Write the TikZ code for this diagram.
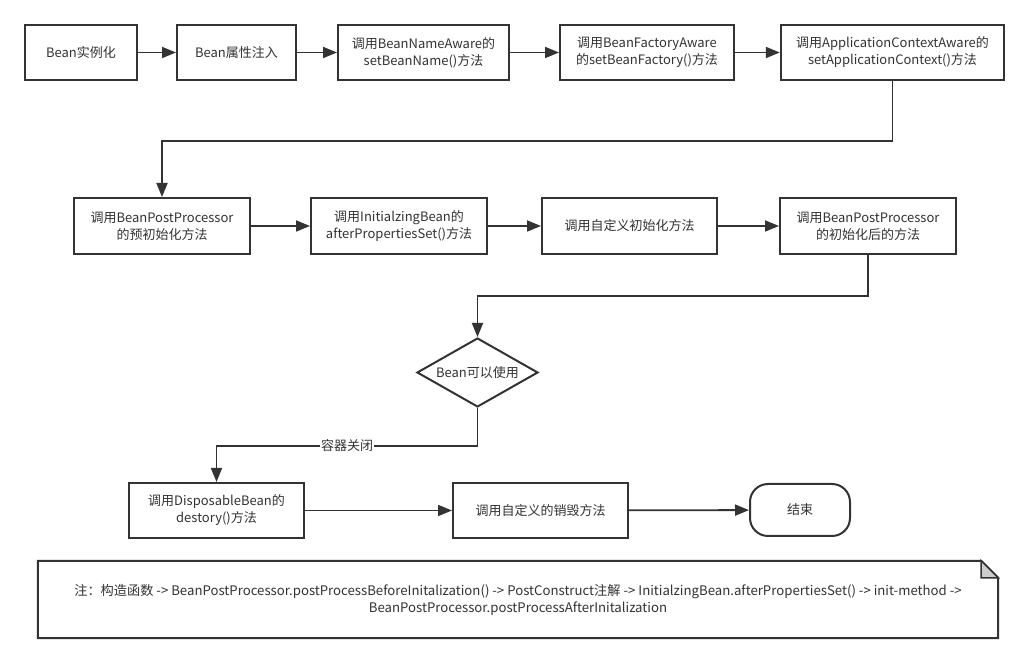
\documentclass[tikz,border=0pt]{standalone}
\usepackage{fontspec}
\setmainfont{Noto Sans CJK SC}
\usetikzlibrary{arrows.meta,shapes.geometric}
\definecolor{ln}{HTML}{333333}
\definecolor{fold}{HTML}{CCCCCC}
\begin{document}
\begin{tikzpicture}[x=1pt,y=1pt,
  box/.style={draw=ln, line width=2pt, minimum height=55pt, align=center,
    font=\fontsize{13}{17}\selectfont, text=ln, inner sep=0pt},
  flow/.style={draw=ln, line width=1.8pt, -{Triangle[length=14pt,width=11pt]}},
  lbl/.style={fill=white, inner sep=1pt, font=\fontsize{13}{14}\selectfont, text=ln}]
\fill[white] (0,0) rectangle (1029,663);
\useasboundingbox (0,0) rectangle (1029,663);
% row 1
\node[box, minimum width=112pt] (b1) at (81,610.5) {Bean实例化};
\node[box, minimum width=119pt] (b2) at (236.5,610.5) {Bean属性注入};
\node[box, minimum width=171pt] (b3) at (423.5,610.5) {调用BeanNameAware的\\setBeanName()方法};
\node[box, minimum width=174pt] (b4) at (647,610.5) {调用BeanFactoryAware\\的setBeanFactory()方法};
\node[box, minimum width=223pt, line width=2.4pt] (b5) at (892.5,610.5) {调用ApplicationContextAware的\\setApplicationContext()方法};
% row 2
\node[box, minimum width=176pt, minimum height=56pt] (b6) at (162,437) {调用BeanPostProcessor\\的预初始化方法};
\node[box, minimum width=176pt, minimum height=56pt] (b7) at (399,437) {调用InitialzingBean的\\afterPropertiesSet()方法};
\node[box, minimum width=175pt, minimum height=56pt] (b8) at (629.5,437) {调用自定义初始化方法};
\node[box, minimum width=176pt, minimum height=56pt] (b9) at (868,437) {调用BeanPostProcessor\\的初始化后的方法};
% decision
\node[diamond, aspect=1.75, draw=ln, line width=2pt, minimum width=121pt, minimum height=69pt, inner sep=0pt,
  font=\fontsize{13}{17}\selectfont, text=ln] (dia) at (477.5,290.5) {Bean可以使用};
% row 3
\node[box, minimum width=175pt] (b10) at (216.5,152.5) {调用DisposableBean的\\destory()方法};
\node[box, minimum width=175pt] (b11) at (540.5,152.5) {调用自定义的销毁方法};
\node[box, minimum width=100pt, minimum height=52pt, rounded corners=18pt] (end) at (800,153) {结束};
% connectors
\draw[flow] (b1) -- (b2);
\draw[flow] (b2) -- (b3);
\draw[flow] (b3) -- (b4);
\draw[flow] (b4) -- (b5);
\draw[flow] (b5.south) -- ++(0,-60) -| (b6.north);
\draw[flow] (b6) -- (b7);
\draw[flow] (b7) -- (b8);
\draw[flow] (b8) -- (b9);
\draw[flow] (b9.south) -- ++(0,-41) -| (dia.north);
\draw[flow] (dia.south) -- ++(0,-38) -| node[lbl, pos=0.25] {容器关闭} (b10.north);
\draw[flow] (b10) -- (b11);
\draw[flow] (b11) -- (end);
% note
\node[minimum width=960pt, minimum height=77pt, inner sep=0pt, align=center,
  font=\fontsize{13.2}{17}\selectfont, text=ln] (note) at (518,63.5)
  {注：构造函数 -> BeanPostProcessor.postProcessBeforeInitalization() -> PostConstruct注解 -> InitialzingBean.afterPropertiesSet() -> init-method ->\\BeanPostProcessor.postProcessAfterInitalization};
\draw[ln, line width=2pt, line join=miter] (note.north west) -- ([xshift=-17pt]note.north east)
  -- ([yshift=-17pt]note.north east) -- (note.south east) -- (note.south west) -- cycle;
\filldraw[draw=ln, fill=fold, line width=1.5pt, line join=miter] ([xshift=-17pt]note.north east)
  -- ([yshift=-17pt]note.north east) -- ([xshift=-17pt,yshift=-17pt]note.north east) -- cycle;
\end{tikzpicture}
\end{document}
